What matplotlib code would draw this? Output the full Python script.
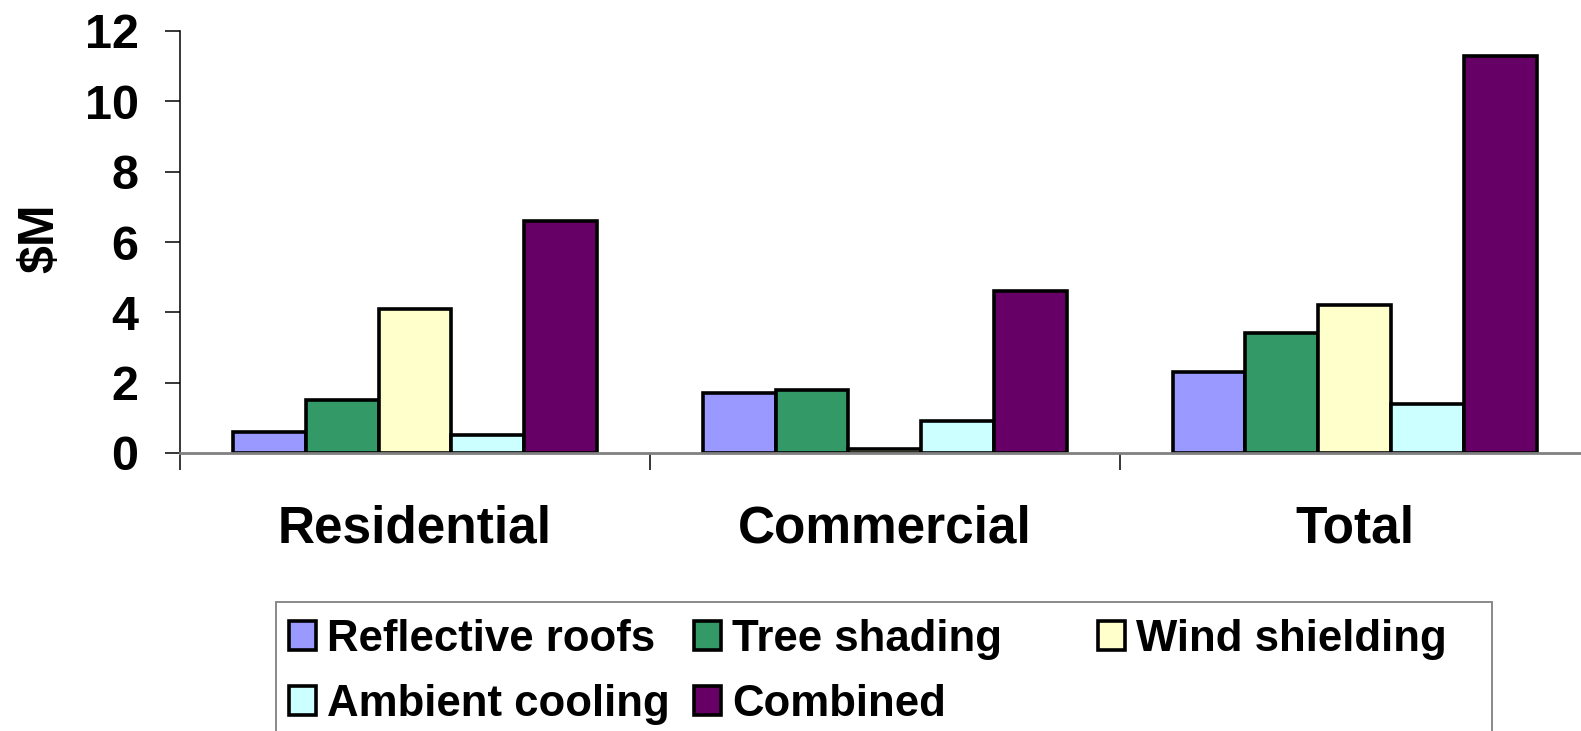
import matplotlib
matplotlib.use("Agg")
import matplotlib.pyplot as plt
from matplotlib.patches import Rectangle
import numpy as np

plt.rcParams['font.family'] = ['Liberation Sans', 'DejaVu Sans']
plt.rcParams['font.weight'] = 'bold'

categories = ['Residential', 'Commercial', 'Total']
series = ['Reflective roofs', 'Tree shading', 'Wind shielding', 'Ambient cooling', 'Combined']
reflective = [0.6, 1.7, 2.3]
tree = [1.5, 1.8, 3.4]
wind = [4.1, 0.1, 4.2]
ambient = [0.5, 0.9, 1.4]
combined = [6.6, 4.6, 11.3]
colors = ['#9999FF', '#339966', '#FFFFCC', '#CCFFFF', '#660066']
yticks = [0, 2, 4, 6, 8, 10, 12]

W, H = 1581, 731
fig = plt.figure(figsize=(W/100, H/100), dpi=100)
ax = fig.add_axes([180/W, (H-453)/H, 1409.5/W, (453-31)/H])

bw = 0.155
x = np.arange(len(categories)) + 0.5
bars = []
for j, (vals, col, name) in enumerate(zip([reflective, tree, wind, ambient, combined], colors, series)):
    b = ax.bar(x + (j-2)*bw, vals, bw, color=col, edgecolor='black', linewidth=2.6, label=name, zorder=3)
    bars.append(b)

ax.set_xlim(0, 3)
ax.set_ylim(0, 12)
ax.set_yticks(yticks)
ax.set_yticklabels([str(v) for v in yticks])
ax.tick_params(axis='y', length=10.8, width=1.1, pad=19, labelsize=35, direction='out')

# boundaries get tick marks, centres get labels
ax.set_xticks([0, 1, 2, 3])
ax.set_xticklabels([])
ax.set_xticks(x, minor=True)
ax.set_xticklabels(categories, minor=True, fontsize=37)
ax.tick_params(axis='x', which='major', length=12, width=1.1, direction='out')
ax.tick_params(axis='x', which='minor', length=0, pad=37)

for s in ['top', 'right']:
    ax.spines[s].set_visible(False)
ax.spines['left'].set_linewidth(1.1)
ax.spines['bottom'].set_color('#808080')
ax.spines['bottom'].set_linewidth(2)
ax.spines['bottom'].set_zorder(4)

ax.set_ylabel('$M', fontsize=36, fontweight='bold')
ax.yaxis.set_label_coords(-117/1409.5, 0.51)

# legend box + three fixed columns
fig.patches.append(Rectangle((276/W, -0.05), (1492-276)/W, 0.05 + (H-602)/H,
                             transform=fig.transFigure, fill=False, ec='#808080', lw=1.3))
cols = [(289, [0, 3]), (694, [1, 4]), (1098, [2])]
for xpx, idx in cols:
    leg = fig.legend([bars[i] for i in idx], [series[i] for i in idx],
                     loc='upper left', bbox_to_anchor=(xpx/W, (H-619)/H),
                     frameon=False, fontsize=31.5, handlelength=0.62, handleheight=0.62,
                     handletextpad=0.25, labelspacing=0.55, borderpad=0, borderaxespad=0)

fig.savefig('out.png', dpi=100, facecolor='white')
